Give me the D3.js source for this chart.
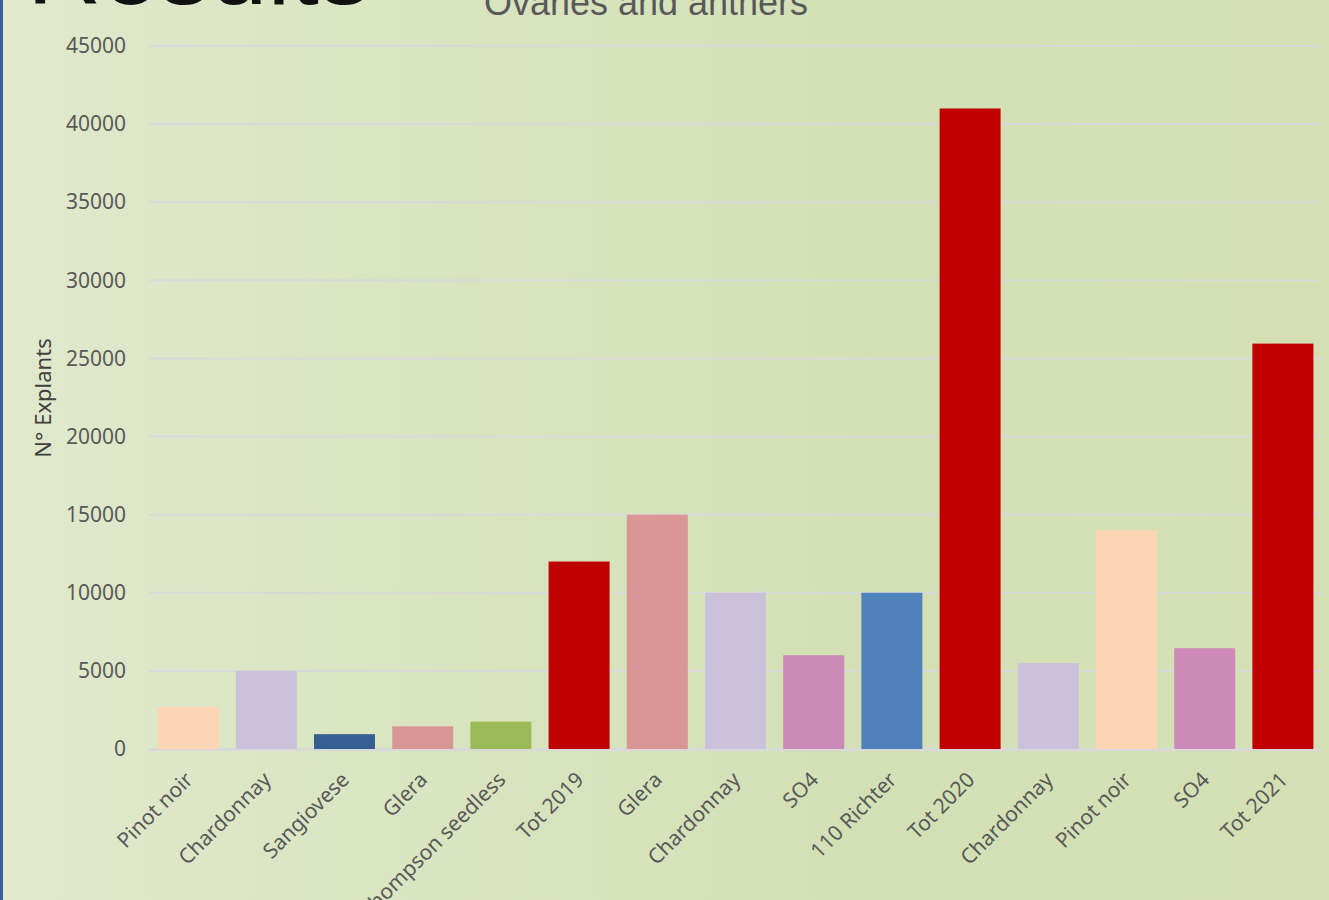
<!DOCTYPE html>
<html>
<head>
<meta charset="utf-8">
<script src="https://cdn.jsdelivr.net/npm/d3@7"></script>
<style>
  body { margin: 0; overflow: hidden; }
</style>
</head>
<body>
<div id="plot"></div>
<script>
// data
const categories = ["Pinot noir", "Chardonnay", "Sangiovese", "Glera", "Thompson seedless", "Tot 2019",
  "Glera", "Chardonnay", "SO4", "110 Richter", "Tot 2020",
  "Chardonnay", "Pinot noir", "SO4", "Tot 2021"];
const values = [2700, 5000, 950, 1450, 1750, 12000, 15000, 10000, 6000, 10000, 41000, 5500, 14000, 6450, 25950];
const barColors = ["#fcd5b5", "#ccc1da", "#376092", "#d99694", "#9bbb59", "#c00000",
  "#d99694", "#ccc1da", "#cd8ab9", "#4f81bd", "#c00000",
  "#ccc1da", "#fcd5b5", "#cd8ab9", "#c00000"];
const yTicks = [0, 5000, 10000, 15000, 20000, 25000, 30000, 35000, 40000, 45000];

const w = 1329;
const h = 900;
const margin = {top: 46, right: 7, bottom: 151, left: 149};
const innerWidth = w - margin.left - margin.right;
const innerHeight = h - margin.top - margin.bottom;

const svg = d3.select("div#plot")
  .append("svg")
    .attr("width", w)
    .attr("height", h);

// background gradient
const grad = svg.append("defs")
  .append("linearGradient")
    .attr("id", "bg")
    .attr("x1", "0%").attr("x2", "100%")
    .attr("y1", "0%").attr("y2", "0%");
grad.append("stop").attr("offset", "0%").attr("stop-color", "#e0e9cc");
grad.append("stop").attr("offset", "65%").attr("stop-color", "#d3e0b5");
grad.append("stop").attr("offset", "100%").attr("stop-color", "#d4e0b4");

svg.append("rect")
  .attr("width", w)
  .attr("height", h)
  .attr("fill", "url(#bg)");

// left border
svg.append("rect")
  .attr("width", 3)
  .attr("height", h)
  .attr("fill", "#3a5f94");

// big slide heading (cut off at top)
svg.append("text")
  .attr("x", 27)
  .attr("y", 4)
  .style("font-family", "Liberation Sans, Arial, sans-serif")
  .style("font-size", "103px")
  .attr("fill", "#111")
  .text("Results");

// chart title (cut off at top)
svg.append("text")
  .attr("x", 646)
  .attr("y", 15)
  .attr("text-anchor", "middle")
  .style("font-family", "Liberation Sans, Arial, sans-serif")
  .style("font-size", "36px")
  .attr("fill", "#595959")
  .text("Ovaries and anthers");

const g = svg.append("g")
  .attr("id", "plot")
  .attr("transform", `translate(${margin.left}, ${margin.top})`);

const xScale = d3.scaleBand()
  .domain(d3.range(categories.length))
  .range([0, innerWidth])
  .paddingInner(0.22)
  .paddingOuter(0.11);

const yScale = d3.scaleLinear()
  .domain([0, 45000])
  .range([innerHeight, 0]);

// gridlines
g.append("g")
  .attr("id", "grid")
  .selectAll("line")
  .data(yTicks)
  .enter()
  .append("line")
    .attr("x1", 0)
    .attr("x2", innerWidth)
    .attr("y1", d => yScale(d))
    .attr("y2", d => yScale(d))
    .attr("stroke", "#d9d9d9")
    .attr("stroke-width", 2);

// y axis
const yAxis = d3.axisLeft(yScale)
  .tickValues(yTicks)
  .tickSize(0)
  .tickPadding(23)
  .tickFormat(d3.format("d"));

g.append("g")
  .attr("id", "yaxis")
  .call(yAxis)
  .call(a => a.select(".domain").remove())
  .selectAll("text")
    .style("font-family", "Noto Sans, Open Sans, sans-serif")
    .style("font-size", "21px")
    .attr("fill", "#595959");

// bars
g.selectAll("rect.bar")
  .data(values)
  .enter()
  .append("rect")
    .attr("class", "bar")
    .attr("x", (d, i) => xScale(i))
    .attr("y", d => yScale(d))
    .attr("width", xScale.bandwidth())
    .attr("height", d => innerHeight - yScale(d))
    .attr("fill", (d, i) => barColors[i]);

// baseline
g.append("line")
  .attr("x1", 0)
  .attr("x2", innerWidth)
  .attr("y1", innerHeight + 1)
  .attr("y2", innerHeight + 1)
  .attr("stroke", "#d9d9d9")
  .attr("stroke-width", 2);

// x axis
const xAxis = d3.axisBottom(xScale)
  .tickSize(0)
  .tickFormat(i => categories[i]);

g.append("g")
  .attr("id", "xaxis")
  .attr("transform", `translate(0, ${innerHeight})`)
  .call(xAxis)
  .call(a => a.select(".domain").remove())
  .selectAll("text")
    .attr("text-anchor", "end")
    .attr("dy", null)
    .attr("y", 0)
    .attr("transform", "translate(6, 32) rotate(-45)")
    .style("font-family", "Noto Sans, Open Sans, sans-serif")
    .style("font-size", "21px")
    .attr("fill", "#595959");

// y-axis label
svg.append("text")
  .attr("transform", `translate(51, 398) rotate(-90)`)
  .attr("text-anchor", "middle")
  .style("font-family", "Noto Sans, Open Sans, sans-serif")
  .style("font-size", "22px")
  .attr("fill", "#404040")
  .text("N° Explants");
</script>
</body>
</html>
